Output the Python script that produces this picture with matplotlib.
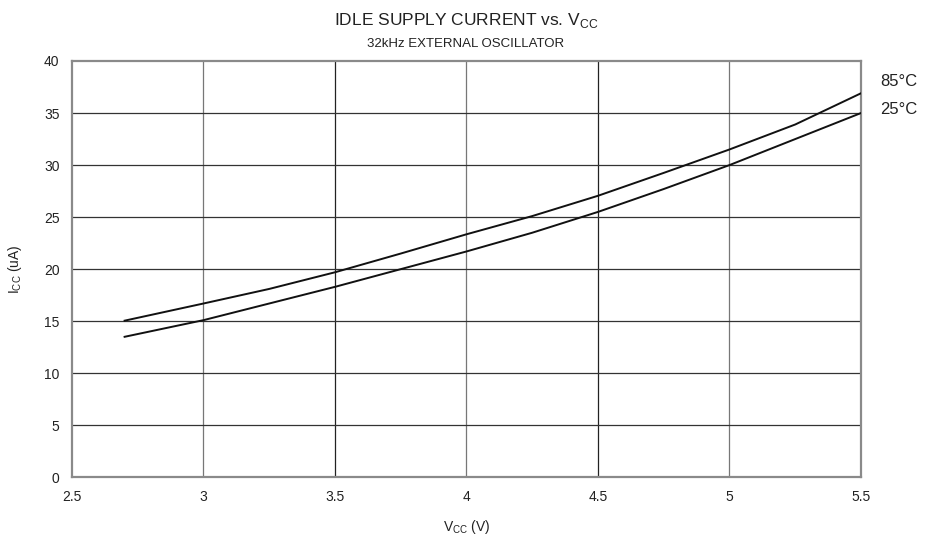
import matplotlib.pyplot as plt

plt.rcParams['font.family'] = ['Liberation Sans', 'DejaVu Sans']

# Idle supply current vs supply voltage, 32kHz external oscillator
vcc = [2.7, 3.0, 3.25, 3.5, 3.75, 4.0, 4.25, 4.5, 4.75, 5.0, 5.25, 5.5]
icc_85c = [15.05, 16.7, 18.1, 19.7, 21.5, 23.35, 25.1, 27.05, 29.25, 31.5, 33.9, 36.9]
icc_25c = [13.5, 15.1, 16.7, 18.3, 20.0, 21.7, 23.5, 25.5, 27.7, 30.0, 32.5, 35.0]
curve_labels = ['85°C', '25°C']

x_ticks = [2.5, 3, 3.5, 4, 4.5, 5, 5.5]
y_ticks = [0, 5, 10, 15, 20, 25, 30, 35, 40]

fig = plt.figure(figsize=(9.29, 5.48), dpi=100)
ax = fig.add_axes([72 / 929, 1 - 477.3 / 548, (861 - 72) / 929, (477.3 - 61) / 548])

ax.set_xlim(2.5, 5.5)
ax.set_ylim(0, 40)
ax.set_xticks(x_ticks)
ax.set_xticklabels(['2.5', '3', '3.5', '4', '4.5', '5', '5.5'])
ax.set_yticks(y_ticks)
ax.tick_params(length=0, labelsize=10, pad=9, colors='#222222')

# grid
for i, xv in enumerate(x_ticks[1:-1]):
    ax.axvline(xv, color='#777777' if i % 2 == 0 else '#222222', lw=0.9, zorder=1)
for yv in y_ticks[1:-1]:
    ax.axhline(yv, color='#333333', lw=0.9, zorder=1)
for s in ax.spines.values():
    s.set_color('#8a8a8a')
    s.set_linewidth(1.6)

ax.plot(vcc, icc_85c, color='#111111', lw=1.4, zorder=3)
ax.plot(vcc, icc_25c, color='#111111', lw=1.4, zorder=3)

fig.text(880 / 929, 1 - 82 / 548, curve_labels[0], fontsize=12, va='center', ha='left', color='#222222')
fig.text(880 / 929, 1 - 110 / 548, curve_labels[1], fontsize=12, va='center', ha='left', color='#222222')

fig.text(466 / 929, 1 - 20 / 548, r'IDLE SUPPLY CURRENT vs. V$_{\mathregular{CC}}$',
         fontsize=12.5, ha='center', va='center', color='#222222')
fig.text(466 / 929, 1 - 44 / 548, '32kHz EXTERNAL OSCILLATOR',
         fontsize=9.5, ha='center', va='center', color='#222222')

ax.set_xlabel(r'V$_{\mathregular{CC}}$ (V)', fontsize=10, color='#222222', labelpad=10)
ax.set_ylabel(r'I$_{\mathregular{CC}}$ (uA)', fontsize=10, color='#222222', labelpad=14)

fig.savefig('out.png', dpi=100)
